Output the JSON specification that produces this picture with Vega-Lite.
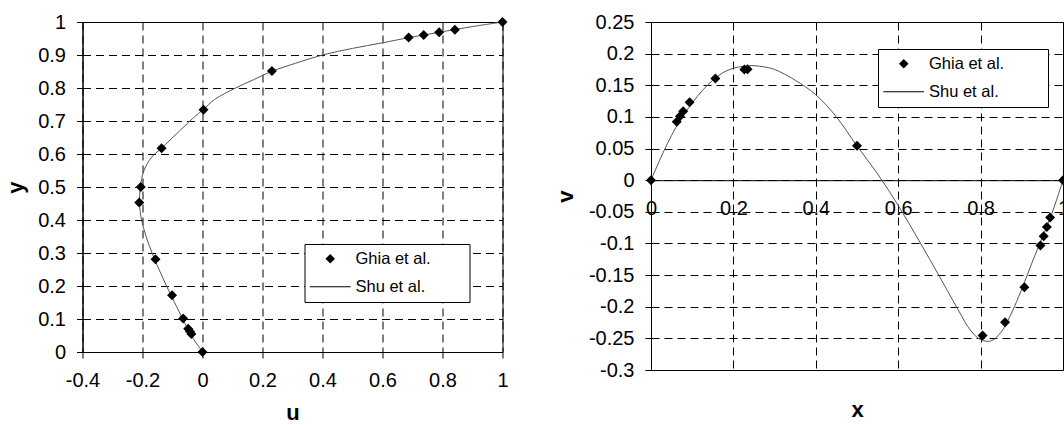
{
  "$schema": "https://vega.github.io/schema/vega-lite/v6.json",
  "padding": {"left": 3.5, "top": 11, "right": 0, "bottom": 0},
  "spacing": 43.5,
  "datasets": {
    "ghiaU": [
      {"u": 1.0, "y": 1.0, "series": "Ghia et al."},
      {"u": 0.84123, "y": 0.9766, "series": "Ghia et al."},
      {"u": 0.78871, "y": 0.9688, "series": "Ghia et al."},
      {"u": 0.73722, "y": 0.9609, "series": "Ghia et al."},
      {"u": 0.68717, "y": 0.9531, "series": "Ghia et al."},
      {"u": 0.23151, "y": 0.8516, "series": "Ghia et al."},
      {"u": 0.00332, "y": 0.7344, "series": "Ghia et al."},
      {"u": -0.13641, "y": 0.6172, "series": "Ghia et al."},
      {"u": -0.20581, "y": 0.5, "series": "Ghia et al."},
      {"u": -0.2109, "y": 0.4531, "series": "Ghia et al."},
      {"u": -0.15662, "y": 0.2813, "series": "Ghia et al."},
      {"u": -0.1015, "y": 0.1719, "series": "Ghia et al."},
      {"u": -0.06434, "y": 0.1016, "series": "Ghia et al."},
      {"u": -0.04775, "y": 0.0703, "series": "Ghia et al."},
      {"u": -0.04192, "y": 0.0625, "series": "Ghia et al."},
      {"u": -0.03717, "y": 0.0547, "series": "Ghia et al."},
      {"u": 0.0, "y": 0.0, "series": "Ghia et al."}
    ],
    "shuU": [
      {"u": 0.0, "y": 0.0},
      {"u": -0.019, "y": 0.025},
      {"u": -0.037, "y": 0.05},
      {"u": -0.052, "y": 0.075},
      {"u": -0.066, "y": 0.1},
      {"u": -0.093, "y": 0.15},
      {"u": -0.12, "y": 0.2},
      {"u": -0.145, "y": 0.25},
      {"u": -0.168, "y": 0.3},
      {"u": -0.188, "y": 0.35},
      {"u": -0.203, "y": 0.4},
      {"u": -0.21, "y": 0.45},
      {"u": -0.207, "y": 0.5},
      {"u": -0.195, "y": 0.55},
      {"u": -0.17, "y": 0.59},
      {"u": -0.14, "y": 0.615},
      {"u": -0.105, "y": 0.645},
      {"u": -0.065, "y": 0.68},
      {"u": -0.03, "y": 0.71},
      {"u": 0.003, "y": 0.735},
      {"u": 0.04, "y": 0.765},
      {"u": 0.11, "y": 0.8},
      {"u": 0.17, "y": 0.825},
      {"u": 0.23, "y": 0.85},
      {"u": 0.31, "y": 0.875},
      {"u": 0.4, "y": 0.9},
      {"u": 0.5, "y": 0.92},
      {"u": 0.6, "y": 0.937},
      {"u": 0.69, "y": 0.953},
      {"u": 0.74, "y": 0.961},
      {"u": 0.79, "y": 0.969},
      {"u": 0.84, "y": 0.977},
      {"u": 0.92, "y": 0.989},
      {"u": 1.0, "y": 1.0}
    ],
    "ghiaV": [
      {"x": 0.0, "v": 0.0, "series": "Ghia et al."},
      {"x": 0.0625, "v": 0.09233, "series": "Ghia et al."},
      {"x": 0.0703, "v": 0.10091, "series": "Ghia et al."},
      {"x": 0.0781, "v": 0.1089, "series": "Ghia et al."},
      {"x": 0.0938, "v": 0.12317, "series": "Ghia et al."},
      {"x": 0.1563, "v": 0.16077, "series": "Ghia et al."},
      {"x": 0.2266, "v": 0.17507, "series": "Ghia et al."},
      {"x": 0.2344, "v": 0.17527, "series": "Ghia et al."},
      {"x": 0.5, "v": 0.05454, "series": "Ghia et al."},
      {"x": 0.8047, "v": -0.24533, "series": "Ghia et al."},
      {"x": 0.8594, "v": -0.22445, "series": "Ghia et al."},
      {"x": 0.9063, "v": -0.16914, "series": "Ghia et al."},
      {"x": 0.9453, "v": -0.10313, "series": "Ghia et al."},
      {"x": 0.9531, "v": -0.08864, "series": "Ghia et al."},
      {"x": 0.9609, "v": -0.07391, "series": "Ghia et al."},
      {"x": 0.9688, "v": -0.05906, "series": "Ghia et al."},
      {"x": 1.0, "v": 0.0, "series": "Ghia et al."}
    ],
    "shuV": [
      {"x": 0.0, "v": 0.0},
      {"x": 0.02, "v": 0.03},
      {"x": 0.04, "v": 0.058},
      {"x": 0.06, "v": 0.083},
      {"x": 0.08, "v": 0.104},
      {"x": 0.1, "v": 0.122},
      {"x": 0.125, "v": 0.142},
      {"x": 0.15, "v": 0.158},
      {"x": 0.175, "v": 0.17},
      {"x": 0.2, "v": 0.177},
      {"x": 0.225, "v": 0.18},
      {"x": 0.25, "v": 0.181},
      {"x": 0.275, "v": 0.179},
      {"x": 0.3, "v": 0.175},
      {"x": 0.35, "v": 0.158},
      {"x": 0.4, "v": 0.135},
      {"x": 0.45, "v": 0.1},
      {"x": 0.5, "v": 0.054},
      {"x": 0.55, "v": 0.01},
      {"x": 0.6, "v": -0.04},
      {"x": 0.65, "v": -0.095},
      {"x": 0.7, "v": -0.152},
      {"x": 0.75, "v": -0.21},
      {"x": 0.775, "v": -0.237},
      {"x": 0.8, "v": -0.252},
      {"x": 0.825, "v": -0.254},
      {"x": 0.85, "v": -0.24},
      {"x": 0.875, "v": -0.21},
      {"x": 0.9, "v": -0.172},
      {"x": 0.925, "v": -0.13},
      {"x": 0.95, "v": -0.09},
      {"x": 0.97, "v": -0.058},
      {"x": 0.985, "v": -0.03},
      {"x": 1.0, "v": 0.0}
    ]
  },
  "hconcat": [
    {
      "width": 420,
      "height": 330,
      "layer": [
        {
          "data": {"name": "shuU"},
          "mark": {"type": "line", "interpolate": "catmull-rom", "color": "#555555", "strokeWidth": 1},
          "encoding": {
            "x": {"field": "u", "type": "quantitative", "scale": {"domain": [-0.4, 1], "nice": false, "zero": false},
              "axis": {"values": [-0.4, -0.2, 0, 0.2, 0.4, 0.6, 0.8, 1], "tickCount": 30, "labelExpr": "'' + datum.value", "title": "u", "labelPadding": 12, "titleY": 67, "titleBaseline": "alphabetic"}},
            "y": {"field": "y", "type": "quantitative", "scale": {"domain": [0, 1], "nice": false},
              "axis": {"values": [0, 0.1, 0.2, 0.3, 0.4, 0.5, 0.6, 0.7, 0.8, 0.9, 1], "tickCount": 30, "labelExpr": "'' + datum.value", "title": "y", "labelPadding": 11, "titleX": -67, "titleBaseline": "middle"}},
            "order": {"field": "y", "type": "quantitative"}
          }
        },
        {
          "data": {"name": "ghiaU"},
          "mark": {"type": "point", "filled": true, "color": "black", "opacity": 1, "size": 100},
          "encoding": {
            "x": {"field": "u", "type": "quantitative"},
            "y": {"field": "y", "type": "quantitative"},
            "shape": {"field": "series", "type": "nominal",
              "scale": {"domain": ["Ghia et al.", "Shu et al."], "range": ["diamond", "M-4.3,-0.1H4.3V0.1H-4.3Z"]},
              "legend": {"orient": "none", "legendX": 222, "legendY": 222, "title": null,
                "labelExpr": "datum.label + '       \u200b'"}}
          }
        }
      ]
    },
    {
      "width": 412,
      "height": 348,
      "layer": [
        {
          "data": {"name": "shuV"},
          "mark": {"type": "line", "interpolate": "catmull-rom", "color": "#555555", "strokeWidth": 1},
          "encoding": {
            "x": {"field": "x", "type": "quantitative", "scale": {"domain": [0, 1], "nice": false},
              "axis": {"values": [0, 0.2, 0.4, 0.6, 0.8, 1], "tickCount": 30, "labelExpr": "'' + datum.value", "title": "x", "labelPadding": 12, "offset": -189.8, "titleY": 236, "titleBaseline": "alphabetic"}},
            "y": {"field": "v", "type": "quantitative", "scale": {"domain": [-0.3, 0.25], "nice": false, "zero": false},
              "axis": {"values": [-0.3, -0.25, -0.2, -0.15, -0.1, -0.05, 0, 0.05, 0.1, 0.15, 0.2, 0.25], "tickCount": 30, "labelExpr": "'' + datum.value", "title": "v", "labelPadding": 11, "titleX": -86, "titleBaseline": "middle"}},
            "order": {"field": "x", "type": "quantitative"}
          }
        },
        {
          "data": {"name": "ghiaV"},
          "mark": {"type": "point", "filled": true, "color": "black", "opacity": 1, "size": 100},
          "encoding": {
            "x": {"field": "x", "type": "quantitative"},
            "y": {"field": "v", "type": "quantitative"},
            "shape": {"field": "series", "type": "nominal",
              "scale": {"domain": ["Ghia et al.", "Shu et al."], "range": ["diamond", "M-4.3,-0.1H4.3V0.1H-4.3Z"]},
              "legend": {"orient": "none", "legendX": 227, "legendY": 27, "title": null,
                "labelExpr": "datum.label + '        \u200b'"}}
          }
        }
      ]
    }
  ],
  "resolve": {"scale": {"shape": "independent"}},
  "config": {
    "font": "Liberation Sans",
    "view": {"stroke": "black", "strokeWidth": 1},
    "axis": {
      "labelFont": "Liberation Sans", "labelFontSize": 20, "labelColor": "black",
      "titleFont": "Liberation Sans", "titleFontSize": 22, "titleFontWeight": "bold", "titleColor": "black",
      "domainColor": "black", "domainWidth": 1, "tickColor": "black", "tickSize": 6, "tickWidth": 1,
      "grid": true, "gridColor": "black", "gridDash": [8, 5], "gridWidth": 1, "gridOpacity": 1,
      "labelFlush": false, "labelOverlap": false, "labelBound": false
    },
    "legend": {
      "labelFont": "Liberation Sans", "labelFontSize": 16.5, "labelColor": "black",
      "strokeColor": "black", "fillColor": "white", "padding": 6.5, "cornerRadius": 0,
      "symbolFillColor": "black", "symbolSize": 90, "symbolStrokeWidth": 0, "symbolOffset": 11,
      "labelOffset": 17, "rowPadding": 11
    }
  }
}
